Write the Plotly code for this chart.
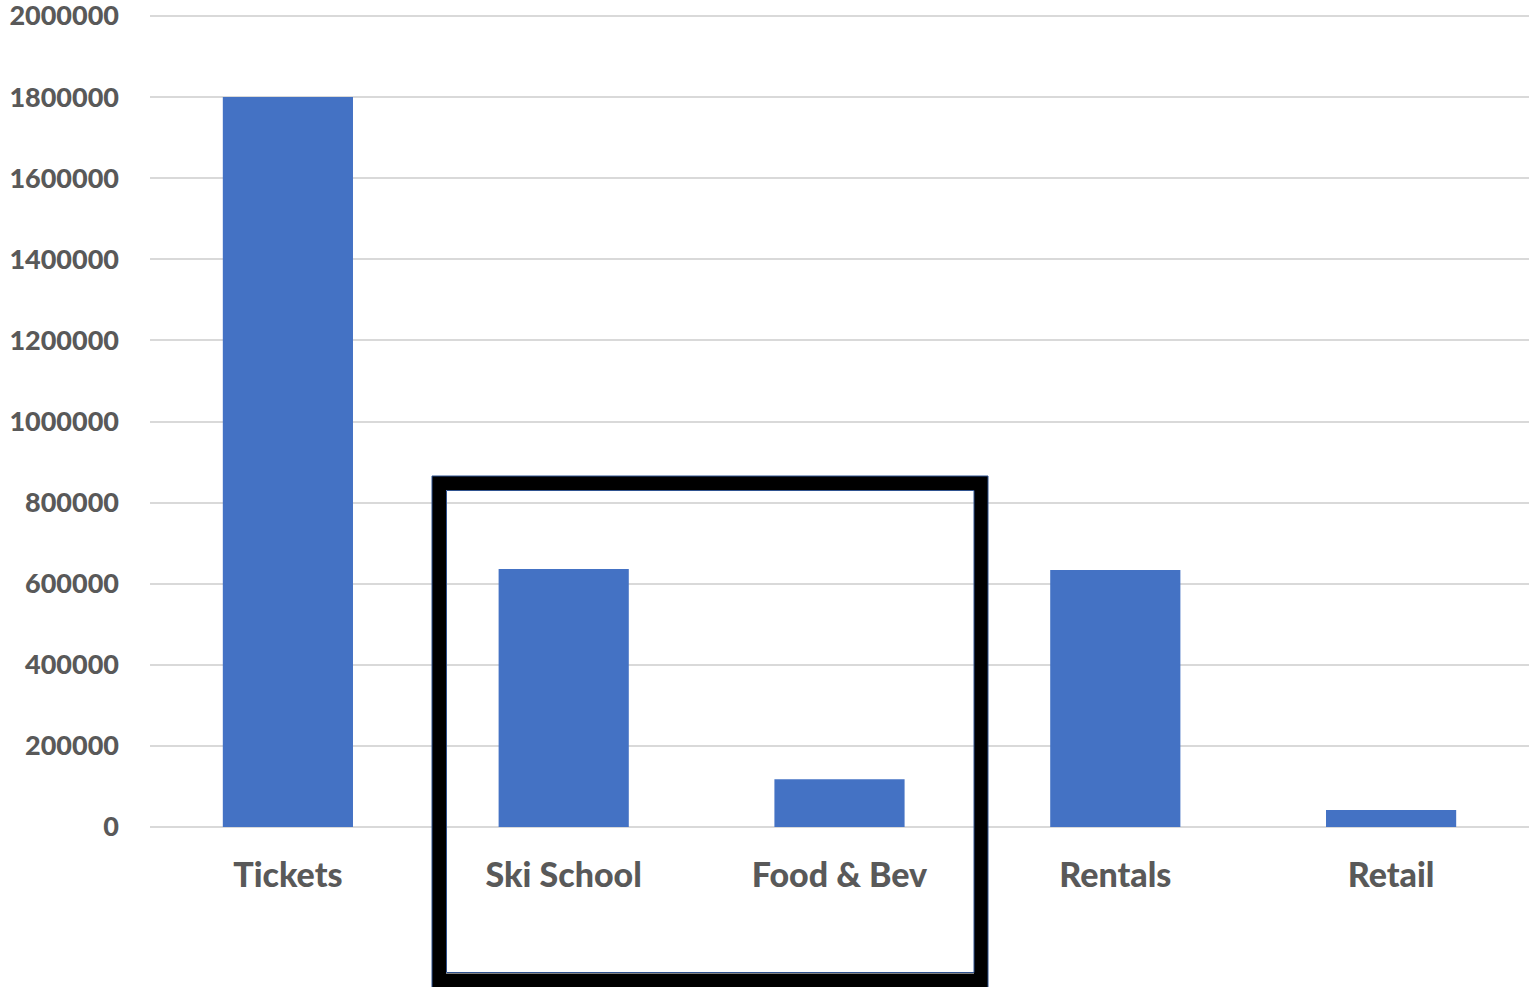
import plotly.graph_objects as go

categories = ["Tickets", "Ski School", "Food & Bev", "Rentals", "Retail"]
revenue = [1800000, 636000, 118000, 634000, 42000]
tick_values = [0, 200000, 400000, 600000, 800000, 1000000, 1200000, 1400000, 1600000, 1800000, 2000000]
tick_labels = [str(v) for v in tick_values]

W, H = 1529, 987
L, R, T, B = 150, 0, 14, 160
pw, ph = W - L - R, H - T - B

def px(x):
    return (x - L) / pw

def py(y):
    return (H - B - y) / ph

fig = go.Figure()
fig.add_trace(go.Bar(x=categories, y=revenue, marker=dict(color="#4472C4", line=dict(width=0)),
                     width=0.472))

tick_font = dict(family="Lato", size=27, color="#595959", weight=900)
cat_font = dict(family="Lato", size=34, color="#595959", weight=900)

fig.update_layout(
    width=W, height=H,
    margin=dict(l=L, r=R, t=T, b=B, pad=0, autoexpand=False),
    paper_bgcolor="white", plot_bgcolor="white",
    showlegend=False,
    xaxis=dict(showgrid=False, showline=False, ticks="", tickfont=cat_font, ticklabelstandoff=25,
               automargin=False),
    yaxis=dict(range=[0, 2004932], tickvals=tick_values, ticktext=tick_labels,
               showgrid=True, gridcolor="#D9D9D9", gridwidth=1.5,
               zeroline=True, zerolinecolor="#D9D9D9", zerolinewidth=1.5,
               showline=False, ticks="", tickfont=tick_font, ticklabelstandoff=30,
               ticklabeloverflow="allow", automargin=False),
)

# highlight rectangle
fig.add_shape(type="rect", xref="paper", yref="paper",
              x0=px(439), x1=px(981), y0=py(980.5), y1=py(483),
              line=dict(color="black", width=14), fillcolor="rgba(0,0,0,0)", layer="above")
for a, b, c, d in [(432, 988, 987.5, 476), (446.5, 974, 972.5, 490.5)]:
    fig.add_shape(type="rect", xref="paper", yref="paper",
                  x0=px(a), x1=px(b), y0=py(c), y1=py(d),
                  line=dict(color="#2F528F", width=1), fillcolor="rgba(0,0,0,0)", layer="above")

fig.write_html("out.html")
